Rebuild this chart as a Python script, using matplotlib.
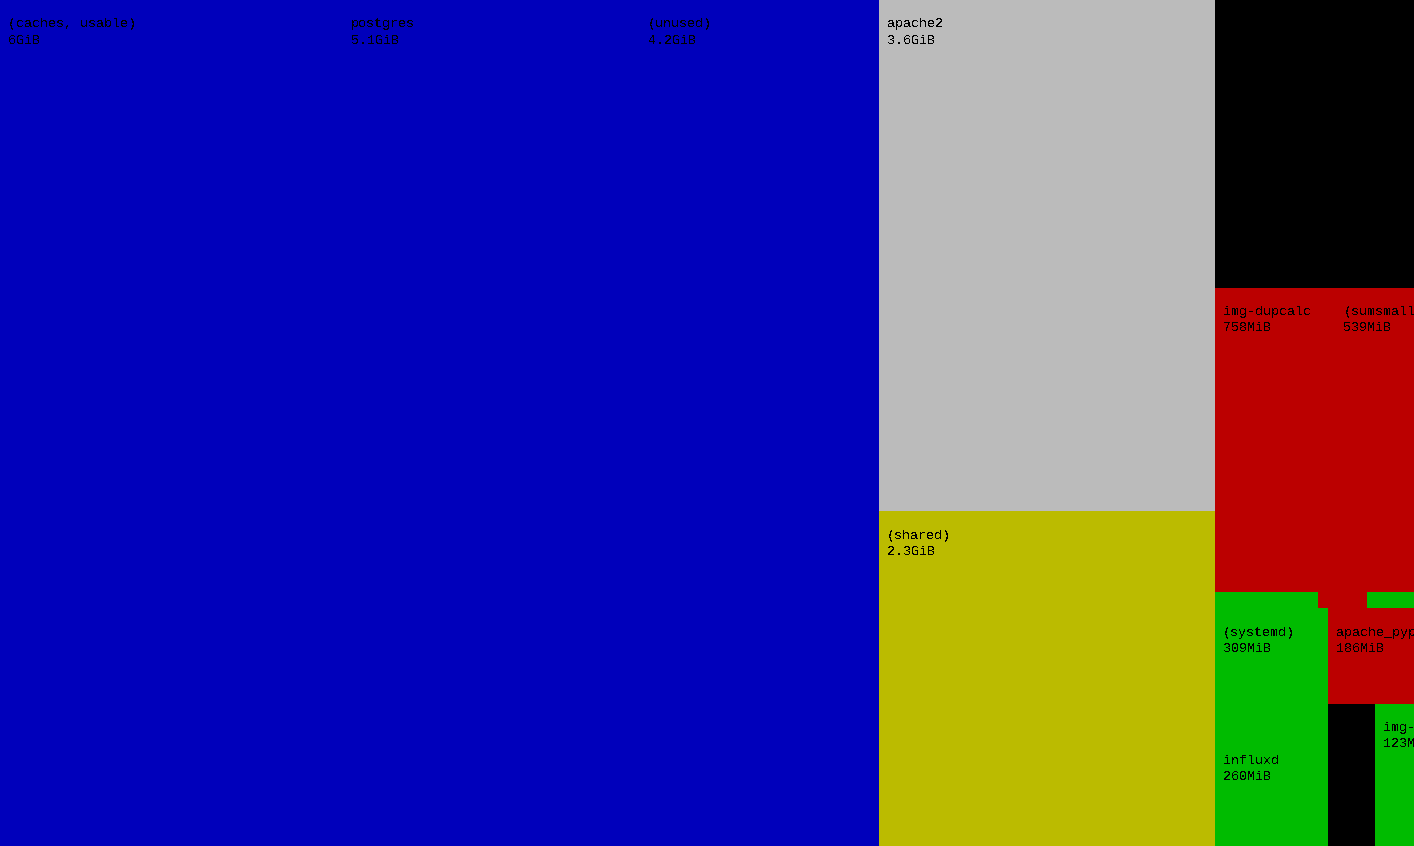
import matplotlib
matplotlib.use("Agg")
import matplotlib.pyplot as plt
from matplotlib.patches import Rectangle

# ---- data (memory usage, MiB) ----
names = ["(caches, usable)", "postgres", "(unused)", "apache2", "(shared)",
         "", "img-dupcalc", "(sumsmall)", "", "", "",
         "(systemd)", "influxd", "apache_pypi", "", "img-"]
size_labels = ["6GiB", "5.1GiB", "4.2GiB", "3.6GiB", "2.3GiB",
               "", "758MiB", "539MiB", "", "", "",
               "309MiB", "260MiB", "186MiB", "", "123MiB"]
values_mib = [6113, 5293, 4259, 3617, 2371,
              1233, 772, 533, 35, 16.5, 17.5,
              305, 259, 182, 143, 129]
colors = ["#0000BB", "#0000BB", "#0000BB", "#BBBBBB", "#BBBB00",
          "#000000", "#BB0000", "#BB0000", "#00BB00", "#BB0000", "#00BB00",
          "#00BB00", "#00BB00", "#BB0000", "#000000", "#00BB00"]

# nesting: ('h', children) = side by side, ('v', children) = stacked; ints = leaf index
tree = ('h', [
    ('h', [0, 1, 2]),
    ('v', [3, 4]),
    ('v', [5,
           ('h', [6, 7]),
           ('h', [8, 9, 10]),
           ('h', [('v', [11, 12]),
                  ('v', [13, ('h', [14, 15])])])]),
])

CANVAS_H = 846.0
AREA_PER_MIB = 47.47
VIEW_W = 1414.0


def total(node):
    if isinstance(node, int):
        return values_mib[node]
    return sum(total(c) for c in node[1])


rects = []


def layout(node, x, y, w, h):
    if isinstance(node, int):
        rects.append((node, x, y, w, h))
        return
    d, children = node
    tot = total(node)
    pos = 0.0
    for c in children:
        frac = total(c) / tot
        if d == 'h':
            layout(c, x + pos * w, y, w * frac, h)
        else:
            layout(c, x, y + pos * h, w, h * frac)
        pos += frac


full_w = total(tree) * AREA_PER_MIB / CANVAS_H
layout(tree, 0.0, 0.0, full_w, CANVAS_H)

plt.rcParams['text.antialiased'] = False
fig = plt.figure(figsize=(14.14, 8.46), dpi=100)
ax = fig.add_axes([0, 0, 1, 1])
ax.set_xlim(0, VIEW_W)
ax.set_ylim(CANVAS_H, 0)
ax.axis('off')

for i, x, y, w, h in rects:
    ax.add_patch(Rectangle((x, y), w, h, facecolor=colors[i],
                           edgecolor='none', antialiased=False))

for i, x, y, w, h in rects:
    if names[i]:
        ax.text(x + 8, y + 27.5, names[i], family='Liberation Mono',
                fontsize=9.6, color='black', va='baseline', ha='left')
        ax.text(x + 8, y + 43.5, size_labels[i], family='Liberation Mono',
                fontsize=9.6, color='black', va='baseline', ha='left')

fig.savefig("out.png", dpi=100)
